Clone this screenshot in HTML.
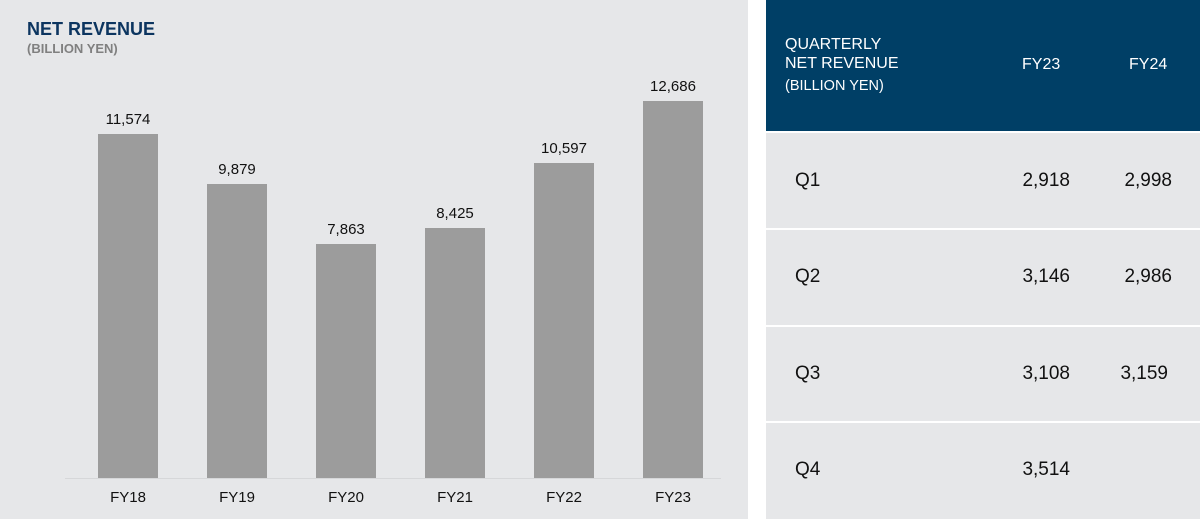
<!DOCTYPE html>
<html><head><style>
body{margin:0;width:1200px;height:519px;background:#fff;font-family:"Liberation Sans",Arial,sans-serif;position:relative;overflow:hidden}
.l{position:absolute;left:0;top:0;width:748px;height:519px;background:#e6e7e9}
.a{position:absolute}
.bar{position:absolute;width:60px;background:#9c9c9c}
.v{position:absolute;width:100px;text-align:center;font-size:15px;color:#111}
.x{position:absolute;width:100px;text-align:center;font-size:15px;color:#111;top:489px}
.t{position:absolute;left:766px;width:434px;background:#e6e7e9}
.q{position:absolute;font-size:19px;color:#111}
.r{position:absolute;font-size:19px;color:#111;width:100px;text-align:right}
</style></head><body>
<div class="l"></div>
<div class="a" style="left:27px;top:19px;font-size:18px;font-weight:bold;color:#0c3560">NET REVENUE</div>
<div class="a" style="left:27px;top:41px;font-size:13px;font-weight:bold;color:#808080">(BILLION YEN)</div>
<div class="a" style="left:65px;top:478px;width:656px;height:1px;background:#d6d7d9"></div>

<div class="bar" style="left:98px;top:134px;height:344px"></div>
<div class="bar" style="left:207px;top:184px;height:294px"></div>
<div class="bar" style="left:316px;top:244px;height:234px"></div>
<div class="bar" style="left:425px;top:228px;height:250px"></div>
<div class="bar" style="left:534px;top:163px;height:315px"></div>
<div class="bar" style="left:643px;top:101px;height:377px"></div>

<div class="v" style="left:78px;top:111px">11,574</div>
<div class="v" style="left:187px;top:161px">9,879</div>
<div class="v" style="left:296px;top:221px">7,863</div>
<div class="v" style="left:405px;top:205px">8,425</div>
<div class="v" style="left:514px;top:140px">10,597</div>
<div class="v" style="left:623px;top:78px">12,686</div>

<div class="x" style="left:78px">FY18</div>
<div class="x" style="left:187px">FY19</div>
<div class="x" style="left:296px">FY20</div>
<div class="x" style="left:405px">FY21</div>
<div class="x" style="left:514px">FY22</div>
<div class="x" style="left:623px">FY23</div>

<div class="t" style="top:0;height:131px;background:#003f66"></div>
<div class="a" style="left:785px;top:35px;font-size:16px;color:#fff;line-height:19px">QUARTERLY<br>NET REVENUE</div>
<div class="a" style="left:785px;top:78px;font-size:14.5px;color:#fff">(BILLION YEN)</div>
<div class="a" style="left:1022px;top:56px;font-size:16px;color:#fff">FY23</div>
<div class="a" style="left:1129px;top:56px;font-size:16px;color:#fff">FY24</div>

<div class="t" style="top:133px;height:95px"></div>
<div class="t" style="top:230px;height:95px"></div>
<div class="t" style="top:327px;height:94px"></div>
<div class="t" style="top:423px;height:96px"></div>

<div class="q" style="left:795px;top:170px">Q1</div>
<div class="r" style="left:970px;top:170px">2,918</div>
<div class="r" style="left:1072px;top:170px">2,998</div>
<div class="q" style="left:795px;top:266px">Q2</div>
<div class="r" style="left:970px;top:266px">3,146</div>
<div class="r" style="left:1072px;top:266px">2,986</div>
<div class="q" style="left:795px;top:363px">Q3</div>
<div class="r" style="left:970px;top:363px">3,108</div>
<div class="r" style="left:1068px;top:363px">3,159</div>
<div class="q" style="left:795px;top:459px">Q4</div>
<div class="r" style="left:970px;top:459px">3,514</div>
</body></html>
